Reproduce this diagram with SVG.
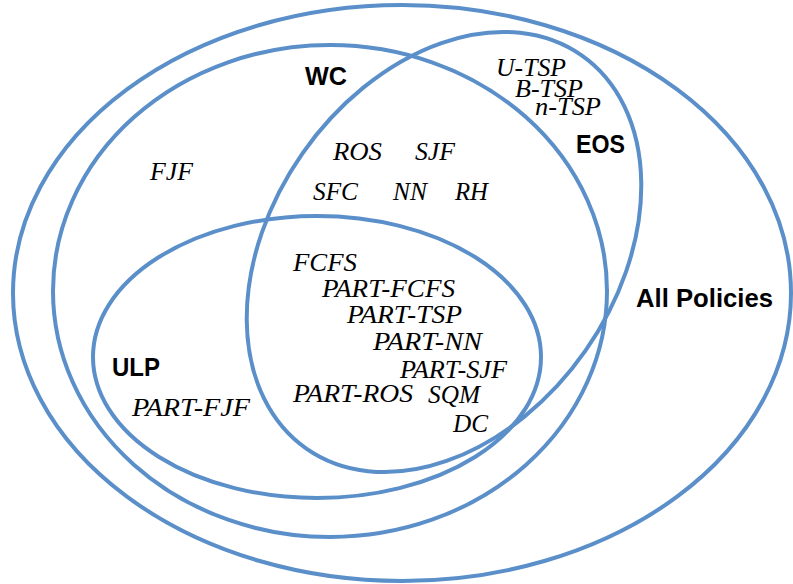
<svg xmlns="http://www.w3.org/2000/svg" width="793" height="584" viewBox="0 0 793 584">
  <style>
    .set { fill: none; stroke: #5b8fc9; stroke-width: 4; }
    .item { font-family: "Liberation Serif", "Times New Roman", serif; font-style: italic; font-size: 26px; fill: #000; }
    .name { font-family: "Liberation Sans", Arial, sans-serif; font-weight: bold; font-size: 25px; fill: #000; }
  </style>
  <rect width="793" height="584" fill="#fff"/>

  <!-- All policies (universe) -->
  <g id="all-policies">
    <ellipse class="set" cx="402" cy="293" rx="389" ry="288"/>
    <text class="name" x="636" y="307" textLength="137" lengthAdjust="spacingAndGlyphs">All Policies</text>
  </g>

  <!-- Work-conserving policies -->
  <g id="wc">
    <ellipse class="set" cx="330" cy="291" rx="277" ry="246"/>
    <text class="name" x="305" y="85" textLength="42" lengthAdjust="spacingAndGlyphs">WC</text>
    <text class="item" x="150" y="180" textLength="43" lengthAdjust="spacingAndGlyphs">FJF</text>
    <text class="item" x="333" y="160" textLength="49" lengthAdjust="spacingAndGlyphs">ROS</text>
    <text class="item" x="415" y="160" textLength="40" lengthAdjust="spacingAndGlyphs">SJF</text>
    <text class="item" x="313" y="200" textLength="45" lengthAdjust="spacingAndGlyphs">SFC</text>
    <text class="item" x="393" y="200" textLength="34" lengthAdjust="spacingAndGlyphs">NN</text>
    <text class="item" x="455" y="200" textLength="33" lengthAdjust="spacingAndGlyphs">RH</text>
  </g>

  <!-- EOS policies -->
  <g id="eos">
    <ellipse class="set" cx="444" cy="252" rx="240" ry="172.5" transform="rotate(-55 444 252)"/>
    <text class="name" x="576" y="153" textLength="49" lengthAdjust="spacingAndGlyphs">EOS</text>
    <text class="item" x="496" y="76" textLength="70" lengthAdjust="spacingAndGlyphs">U-TSP</text>
    <text class="item" x="515" y="97" textLength="68" lengthAdjust="spacingAndGlyphs">B-TSP</text>
    <text class="item" x="535" y="115" textLength="66" lengthAdjust="spacingAndGlyphs">n-TSP</text>
  </g>

  <!-- ULP policies -->
  <g id="ulp">
    <ellipse class="set" cx="317" cy="357" rx="224" ry="141"/>
    <text class="name" x="112" y="376" textLength="48" lengthAdjust="spacingAndGlyphs">ULP</text>
    <text class="item" x="132" y="416" textLength="118" lengthAdjust="spacingAndGlyphs">PART-FJF</text>
    <text class="item" x="293" y="271" textLength="64" lengthAdjust="spacingAndGlyphs">FCFS</text>
    <text class="item" x="322" y="297" textLength="133" lengthAdjust="spacingAndGlyphs">PART-FCFS</text>
    <text class="item" x="347" y="323" textLength="115" lengthAdjust="spacingAndGlyphs">PART-TSP</text>
    <text class="item" x="373" y="350" textLength="109" lengthAdjust="spacingAndGlyphs">PART-NN</text>
    <text class="item" x="400" y="378" textLength="107" lengthAdjust="spacingAndGlyphs">PART-SJF</text>
    <text class="item" x="293" y="402" textLength="120" lengthAdjust="spacingAndGlyphs">PART-ROS</text>
    <text class="item" x="428" y="403" textLength="52" lengthAdjust="spacingAndGlyphs">SQM</text>
    <text class="item" x="453" y="432" textLength="35" lengthAdjust="spacingAndGlyphs">DC</text>
  </g>
</svg>
